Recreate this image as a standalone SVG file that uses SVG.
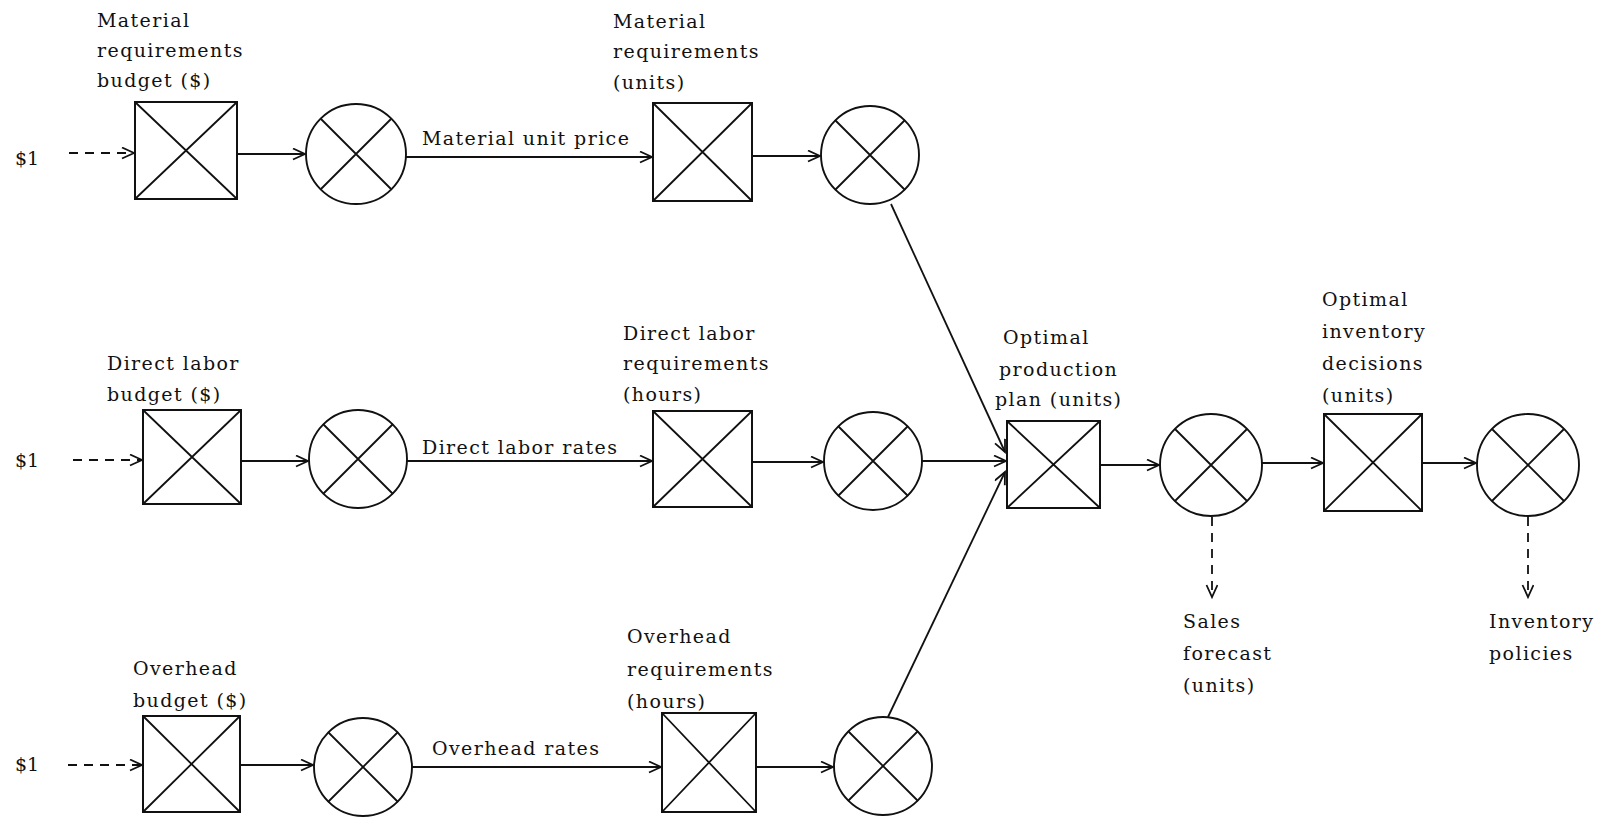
<svg xmlns="http://www.w3.org/2000/svg" width="1601" height="820" viewBox="0 0 1601 820">
<style>
.bx{fill:none;stroke:#111;stroke-width:2}
.xl{stroke:#111;stroke-width:1.8}
.ci{fill:none;stroke:#111;stroke-width:1.9}
.cn{fill:none;stroke:#111;stroke-width:1.8}
.ds{fill:none;stroke:#111;stroke-width:1.8;stroke-dasharray:9 7}
text{font-family:"DejaVu Serif","Liberation Serif",serif;font-size:19px;letter-spacing:1.4px;fill:#111}
.d{font-size:19px;letter-spacing:0}
</style>
<defs>
<marker id="ah" markerUnits="userSpaceOnUse" markerWidth="16" markerHeight="14" refX="13" refY="6" orient="auto">
<path d="M1,0.5 L13,6 L1,11.5" fill="none" stroke="#111" stroke-width="1.8"/>
</marker>
</defs>
<rect width="1601" height="820" fill="#fff"/>

<g id="connectors">
<line class="ds" x1="69" y1="153" x2="134" y2="153" marker-end="url(#ah)"/>
<line class="ds" x1="73" y1="460" x2="142" y2="460" marker-end="url(#ah)"/>
<line class="ds" x1="68" y1="765" x2="142" y2="765" marker-end="url(#ah)"/>
<line class="cn" x1="237" y1="154" x2="305" y2="154" marker-end="url(#ah)"/>
<line class="cn" x1="406" y1="157" x2="652" y2="157" marker-end="url(#ah)"/>
<line class="cn" x1="752" y1="156" x2="820" y2="156" marker-end="url(#ah)"/>
<line class="cn" x1="241" y1="461" x2="308" y2="461" marker-end="url(#ah)"/>
<line class="cn" x1="407" y1="461" x2="652" y2="461" marker-end="url(#ah)"/>
<line class="cn" x1="752" y1="462" x2="823" y2="462" marker-end="url(#ah)"/>
<line class="cn" x1="922" y1="461" x2="1006" y2="461" marker-end="url(#ah)"/>
<line class="cn" x1="240" y1="765" x2="313" y2="765" marker-end="url(#ah)"/>
<line class="cn" x1="412" y1="767" x2="661" y2="767" marker-end="url(#ah)"/>
<line class="cn" x1="756" y1="767" x2="833" y2="767" marker-end="url(#ah)"/>
<line class="cn" x1="891" y1="204" x2="1005" y2="452" marker-end="url(#ah)"/>
<line class="cn" x1="888" y1="717" x2="1005" y2="472" marker-end="url(#ah)"/>
<line class="cn" x1="1100" y1="465" x2="1159" y2="465" marker-end="url(#ah)"/>
<line class="cn" x1="1262" y1="463" x2="1323" y2="463" marker-end="url(#ah)"/>
<line class="cn" x1="1422" y1="463" x2="1476" y2="463" marker-end="url(#ah)"/>
<line class="ds" x1="1212" y1="517" x2="1212" y2="597" marker-end="url(#ah)"/>
<line class="ds" x1="1528" y1="517" x2="1528" y2="597" marker-end="url(#ah)"/>
</g>

<g id="inputs">
<text class="d" x="15" y="165">$1</text>
<text class="d" x="15" y="467">$1</text>
<text class="d" x="15" y="771">$1</text>
</g>

<g id="edge-labels">
<text x="422" y="145">Material unit price</text>
<text x="422" y="454">Direct labor rates</text>
<text x="432" y="755">Overhead rates</text>
</g>

<g id="mat-budget">
<rect class="bx" x="135" y="102" width="102" height="97"/>
<path class="xl" d="M135,102 L237,199 M237,102 L135,199"/>
<text x="97" y="27">Material</text>
<text x="97" y="57">requirements</text>
<text x="97" y="87">budget ($)</text>
</g>
<g id="mat-mult1">
<circle class="ci" cx="356" cy="154" r="50"/>
<path class="xl" d="M321,119 L391,189 M391,119 L321,189"/>
</g>
<g id="mat-req">
<rect class="bx" x="653" y="103" width="99" height="98"/>
<path class="xl" d="M653,103 L752,201 M752,103 L653,201"/>
<text x="613" y="28">Material</text>
<text x="613" y="58">requirements</text>
<text x="613" y="89">(units)</text>
</g>
<g id="mat-mult2">
<circle class="ci" cx="870" cy="155" r="49"/>
<path class="xl" d="M835,120 L905,190 M905,120 L835,190"/>
</g>

<g id="dl-budget">
<rect class="bx" x="143" y="410" width="98" height="94"/>
<path class="xl" d="M143,410 L241,504 M241,410 L143,504"/>
<text x="107" y="370">Direct labor</text>
<text x="107" y="401">budget ($)</text>
</g>
<g id="dl-mult1">
<circle class="ci" cx="358" cy="459" r="49"/>
<path class="xl" d="M323,424 L393,494 M393,424 L323,494"/>
</g>
<g id="dl-req">
<rect class="bx" x="653" y="411" width="99" height="96"/>
<path class="xl" d="M653,411 L752,507 M752,411 L653,507"/>
<text x="623" y="340">Direct labor</text>
<text x="623" y="370">requirements</text>
<text x="623" y="401">(hours)</text>
</g>
<g id="dl-mult2">
<circle class="ci" cx="873" cy="461" r="49"/>
<path class="xl" d="M838,426 L908,496 M908,426 L838,496"/>
</g>

<g id="oh-budget">
<rect class="bx" x="143" y="716" width="97" height="96"/>
<path class="xl" d="M143,716 L240,812 M240,716 L143,812"/>
<text x="133" y="675">Overhead</text>
<text x="133" y="707">budget ($)</text>
</g>
<g id="oh-mult1">
<circle class="ci" cx="363" cy="767" r="49"/>
<path class="xl" d="M328,732 L398,802 M398,732 L328,802"/>
</g>
<g id="oh-req">
<rect class="bx" x="662" y="713" width="94" height="99"/>
<path class="xl" d="M662,713 L756,812 M756,713 L662,812"/>
<text x="627" y="643">Overhead</text>
<text x="627" y="676">requirements</text>
<text x="627" y="708">(hours)</text>
</g>
<g id="oh-mult2">
<circle class="ci" cx="883" cy="766" r="49"/>
<path class="xl" d="M848,731 L918,801 M918,731 L848,801"/>
</g>

<g id="production-plan">
<rect class="bx" x="1007" y="421" width="93" height="87"/>
<path class="xl" d="M1007,421 L1100,508 M1100,421 L1007,508"/>
<text x="1003" y="344">Optimal</text>
<text x="999" y="376">production</text>
<text x="995" y="406">plan (units)</text>
</g>
<g id="sales-mult">
<circle class="ci" cx="1211" cy="465" r="51"/>
<path class="xl" d="M1175,429 L1247,501 M1247,429 L1175,501"/>
<text x="1183" y="628">Sales</text>
<text x="1183" y="660">forecast</text>
<text x="1183" y="692">(units)</text>
</g>
<g id="inventory-decisions">
<rect class="bx" x="1324" y="414" width="98" height="97"/>
<path class="xl" d="M1324,414 L1422,511 M1422,414 L1324,511"/>
<text x="1322" y="306">Optimal</text>
<text x="1322" y="338">inventory</text>
<text x="1322" y="370">decisions</text>
<text x="1322" y="402">(units)</text>
</g>
<g id="inventory-mult">
<circle class="ci" cx="1528" cy="465" r="51"/>
<path class="xl" d="M1492,429 L1564,501 M1564,429 L1492,501"/>
<text x="1489" y="628">Inventory</text>
<text x="1489" y="660">policies</text>
</g>
</svg>
